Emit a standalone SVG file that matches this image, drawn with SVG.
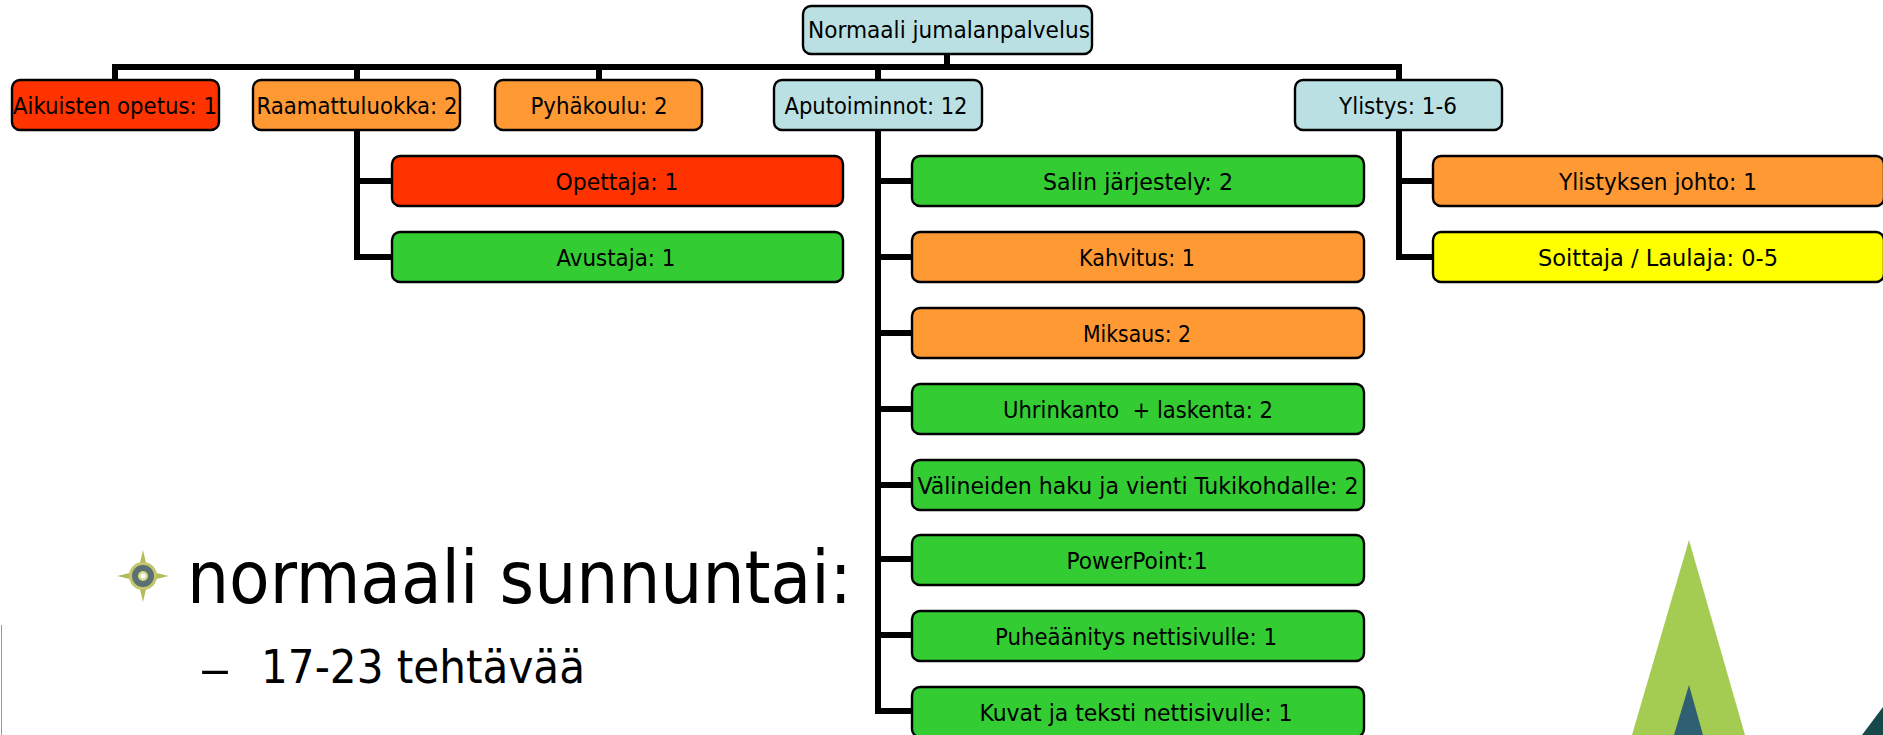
<svg xmlns="http://www.w3.org/2000/svg" width="1883" height="735" viewBox="0 0 1883 735">
<style>
text{font-family:"DejaVu Sans Condensed","DejaVu Sans",sans-serif;fill:#000}
.n{stroke:#000;stroke-width:2.4}
.l{font-size:23.5px;text-anchor:middle}
.c{fill:none;stroke:#000;stroke-width:6}
.r{fill:#ff3300}.o{fill:#ff9933}.g{fill:#33cc33}.b{fill:#bbe0e3}.y{fill:#ffff00}
</style>
<rect width="1883" height="735" fill="#fff"/>
<g id="backdrop">
<path d="M1689 540L1745 735H1632Z" fill="#a4cb52"/>
<path d="M1689 685L1703 735H1674Z" fill="#2f5f73"/>
<path d="M1862 735L1883 707V735Z" fill="#17494a"/>
<path d="M1.5 625V735" stroke="#999" stroke-width="1" fill="none"/>
</g>
<g id="connectors">
<path class="c" d="M947 55V67M115 79V67H1399V79M357 67V79M599 67V79M878 67V79"/>
<path class="c" d="M357 130V257H392M357 181H392"/>
<path class="c" d="M878 130V711H912M878 181H912M878 257H912M878 333H912M878 409H912M878 485H912M878 559H912M878 635H912"/>
<path class="c" d="M1399 130V257H1433M1399 181H1433"/>
</g>
<g id="root"><rect class="n b" x="803" y="6" width="289" height="48" rx="8"/><text class="l" x="949" y="38" textLength="282" lengthAdjust="spacingAndGlyphs">Normaali jumalanpalvelus</text></g>
<g id="aikuisten"><rect class="n r" x="12" y="80" width="207" height="50" rx="8"/><text class="l" x="115" y="114" textLength="204" lengthAdjust="spacingAndGlyphs">Aikuisten opetus: 1</text></g>
<g id="raamattuluokka"><rect class="n o" x="253" y="80" width="207" height="50" rx="8"/><text class="l" x="357" y="114" textLength="201" lengthAdjust="spacingAndGlyphs">Raamattuluokka: 2</text></g>
<g id="pyhakoulu"><rect class="n o" x="495" y="80" width="207" height="50" rx="8"/><text class="l" x="599" y="114" textLength="137" lengthAdjust="spacingAndGlyphs">Pyhäkoulu: 2</text></g>
<g id="aputoiminnot"><rect class="n b" x="774" y="80" width="208" height="50" rx="8"/><text class="l" x="876" y="114" textLength="183" lengthAdjust="spacingAndGlyphs">Aputoiminnot: 12</text></g>
<g id="ylistys"><rect class="n b" x="1295" y="80" width="207" height="50" rx="8"/><text class="l" x="1398" y="114" textLength="118" lengthAdjust="spacingAndGlyphs">Ylistys: 1-6</text></g>
<g id="opettaja"><rect class="n r" x="392" y="156" width="451" height="50" rx="8"/><text class="l" x="617" y="190" textLength="123" lengthAdjust="spacingAndGlyphs">Opettaja: 1</text></g>
<g id="avustaja"><rect class="n g" x="392" y="232" width="451" height="50" rx="8"/><text class="l" x="616" y="266" textLength="119" lengthAdjust="spacingAndGlyphs">Avustaja: 1</text></g>
<g id="salin"><rect class="n g" x="912" y="156" width="452" height="50" rx="8"/><text class="l" x="1138" y="190" textLength="190" lengthAdjust="spacingAndGlyphs">Salin järjestely: 2</text></g>
<g id="kahvitus"><rect class="n o" x="912" y="232" width="452" height="50" rx="8"/><text class="l" x="1137" y="266" textLength="116" lengthAdjust="spacingAndGlyphs">Kahvitus: 1</text></g>
<g id="miksaus"><rect class="n o" x="912" y="308" width="452" height="50" rx="8"/><text class="l" x="1137" y="342" textLength="108" lengthAdjust="spacingAndGlyphs">Miksaus: 2</text></g>
<g id="uhrinkanto"><rect class="n g" x="912" y="384" width="452" height="50" rx="8"/><text class="l" x="1138" y="418" textLength="270" lengthAdjust="spacingAndGlyphs" xml:space="preserve">Uhrinkanto  + laskenta: 2</text></g>
<g id="valineiden"><rect class="n g" x="912" y="460" width="452" height="50" rx="8"/><text class="l" x="1138" y="494" textLength="441" lengthAdjust="spacingAndGlyphs">Välineiden haku ja vienti Tukikohdalle: 2</text></g>
<g id="powerpoint"><rect class="n g" x="912" y="535" width="452" height="50" rx="8"/><text class="l" x="1137" y="569" textLength="141" lengthAdjust="spacingAndGlyphs">PowerPoint:1</text></g>
<g id="puheaanitys"><rect class="n g" x="912" y="611" width="452" height="50" rx="8"/><text class="l" x="1136" y="645" textLength="282" lengthAdjust="spacingAndGlyphs">Puheäänitys nettisivulle: 1</text></g>
<g id="kuvat"><rect class="n g" x="912" y="687" width="452" height="50" rx="8"/><text class="l" x="1136" y="721" textLength="313" lengthAdjust="spacingAndGlyphs">Kuvat ja teksti nettisivulle: 1</text></g>
<g id="ylistyksen"><rect class="n o" x="1433" y="156" width="451" height="50" rx="8"/><text class="l" x="1658" y="190" textLength="198" lengthAdjust="spacingAndGlyphs">Ylistyksen johto: 1</text></g>
<g id="soittaja"><rect class="n y" x="1433" y="232" width="451" height="50" rx="8"/><text class="l" x="1658" y="266" textLength="240" lengthAdjust="spacingAndGlyphs">Soittaja / Laulaja: 0-5</text></g>
<g id="bullet">
<path d="M143 550L148 571L169 576L148 581L143 602L138 581L117 576L138 571Z" fill="#b5bb5c"/>
<circle cx="143" cy="576" r="14" fill="#c3c56d"/>
<circle cx="143" cy="576" r="11" fill="#5c6f72"/>
<circle cx="143" cy="576" r="5" fill="#d8d98a"/>
<circle cx="143" cy="576" r="2.5" fill="#fff"/>
</g>
<text x="187" y="603" font-size="73" textLength="665" lengthAdjust="spacingAndGlyphs">normaali sunnuntai:</text>
<text x="199" y="685" font-size="46" textLength="32" lengthAdjust="spacingAndGlyphs">–</text>
<text x="261" y="683" font-size="46" textLength="324" lengthAdjust="spacingAndGlyphs">17-23 tehtävää</text>
</svg>
